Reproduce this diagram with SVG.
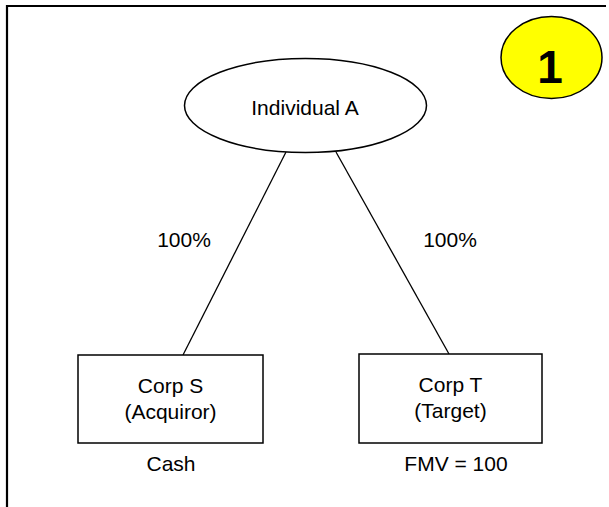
<svg xmlns="http://www.w3.org/2000/svg" width="609" height="507" viewBox="0 0 609 507">
<style>
.t{font-family:"Liberation Sans",Arial,sans-serif;font-size:21px;fill:#000;text-anchor:middle}
.s{fill:#fff;stroke:#000;stroke-width:1.5}
.c{stroke:#000;stroke-width:1.3;fill:none}
</style>
<rect width="609" height="507" fill="#fff"/>
<g id="frame"><path d="M7 507 V6 H606" fill="none" stroke="#000" stroke-width="2.2"/></g>
<g id="badge">
<ellipse cx="551.5" cy="57.5" rx="50.5" ry="41" fill="#ffff00" stroke="#000" stroke-width="1.5"/>
<text x="550" y="83" style="font-family:'Liberation Sans',Arial,sans-serif;font-size:46px;font-weight:bold;text-anchor:middle">1</text>
</g>
<g id="connectors">
<line class="c" x1="286" y1="152" x2="183" y2="355"/>
<line class="c" x1="336" y1="152" x2="449" y2="354"/>
<text class="t" x="184" y="247">100%</text>
<text class="t" x="450" y="247">100%</text>
</g>
<g id="individualA">
<ellipse class="s" cx="305.5" cy="105.5" rx="121" ry="47"/>
<text class="t" x="305" y="115">Individual A</text>
</g>
<g id="corpS">
<rect class="s" x="78" y="355" width="185" height="88"/>
<text class="t" x="170.5" y="393">Corp S</text>
<text class="t" x="170.5" y="419">(Acquiror)</text>
<text class="t" x="171" y="471">Cash</text>
</g>
<g id="corpT">
<rect class="s" x="359" y="354" width="183" height="89"/>
<text class="t" x="450.5" y="392">Corp T</text>
<text class="t" x="450.5" y="418">(Target)</text>
<text class="t" x="456" y="471">FMV = 100</text>
</g>
</svg>
